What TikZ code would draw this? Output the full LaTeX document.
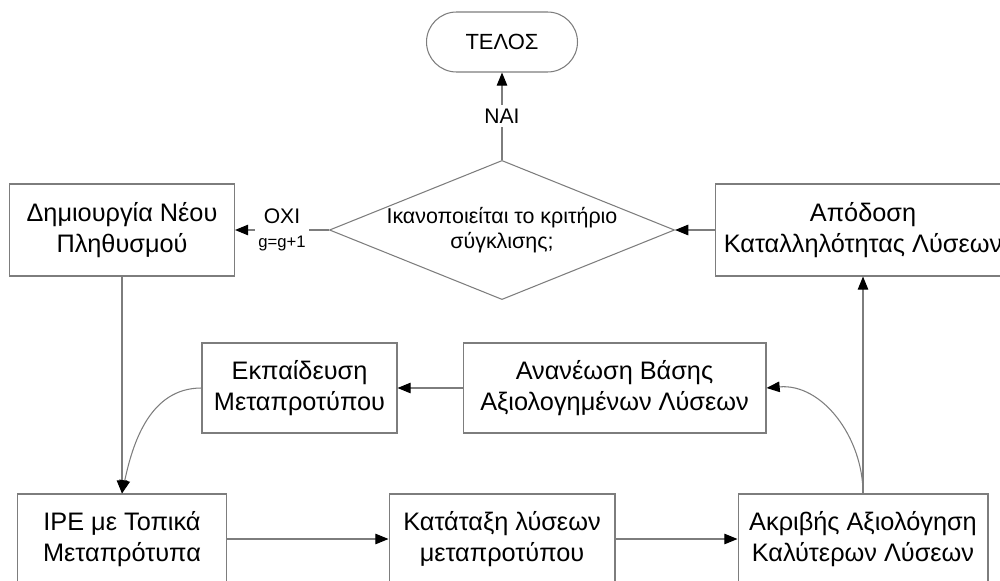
\documentclass[tikz,border=0pt]{standalone}
\usepackage{fontspec}
\setmainfont{Liberation Sans}
\usetikzlibrary{arrows.meta}
\usetikzlibrary{shapes}
\definecolor{linegray}{RGB}{125,125,125}

\begin{document}
\begin{tikzpicture}[x=0.02cm, y=-0.02cm,
		box/.style={draw=linegray, line width=0.6pt, minimum height=1.8cm, align=center, font=\fontsize{14.4pt}{18pt}\selectfont},
		flow/.style={draw=linegray, line width=0.6pt, -{Triangle[length=7.5pt, width=6pt, color=black]}},
		lbl/.style={fill=white, inner sep=2pt, align=center, font=\fontsize{12pt}{14pt}\selectfont}]
			\useasboundingbox (0,0) rectangle (1000,581);
			\clip (0,0) rectangle (1000,581);

			\node[box, rounded corners=0.6cm, minimum width=3.02cm, minimum height=1.2cm, font=\fontsize{12.5pt}{15pt}\selectfont] (telos) at (502,42) {ΤΕΛΟΣ};
			\node[draw=linegray, line width=0.6pt, diamond, aspect=2.48, inner sep=0pt, minimum width=6.9cm, minimum height=2.78cm, align=center, font=\fontsize{12.2pt}{14.5pt}\selectfont] (kritirio) at (502,230) {Ικανοποιείται το κριτήριο\\σύγκλισης;};
			\node[box, minimum width=4.5cm, minimum height=1.84cm] (neos) at (122,230) {Δημιουργία Νέου\\Πληθυσμού};
			\node[box, minimum width=5.92cm, minimum height=1.84cm] (apodosi) at (863,230) {Απόδοση\\Καταλληλότητας Λύσεων};

			\node[box, minimum width=3.9cm] (ekpaidefsi) at (299.5,388) {Εκπαίδευση\\Μεταπροτύπου};
			\node[box, minimum width=6.06cm] (ananeosi) at (614.5,388) {Ανανέωση Βάσης\\Αξιολογημένων Λύσεων};

			\node[box, minimum width=4.18cm] (ipe) at (122,539) {IPE με Τοπικά\\Μεταπρότυπα};
			\node[box, minimum width=4.52cm] (katataxi) at (502,539) {Κατάταξη λύσεων\\μεταπροτύπου};
			\node[box, minimum width=5.0cm] (akrivis) at (863,539) {Ακριβής Αξιολόγηση\\Καλύτερων Λύσεων};

			\draw[flow] (kritirio.north) -- node[lbl] {ΝΑΙ} (telos.south);
			\draw[flow] (kritirio.west) -- node[lbl] {ΟΧΙ\\{\fontsize{9.5pt}{11pt}\selectfont g=g+1}} (neos.east);
			\draw[flow] (apodosi.west) -- (kritirio.east);
			\draw[flow] (neos.south) -- (ipe.north);
			\draw[flow] (ekpaidefsi.west) to[out=180, in=78] (ipe.north);
			\draw[flow] (ananeosi.west) -- (ekpaidefsi.east);
			\draw[flow] (ipe.east) -- (katataxi.west);
			\draw[flow] (katataxi.east) -- (akrivis.west);
			\draw[flow] (akrivis.north) to[out=90, in=5] (ananeosi.east);
			\draw[flow] (akrivis.north) -- (apodosi.south);
		\end{tikzpicture}
\end{document}
